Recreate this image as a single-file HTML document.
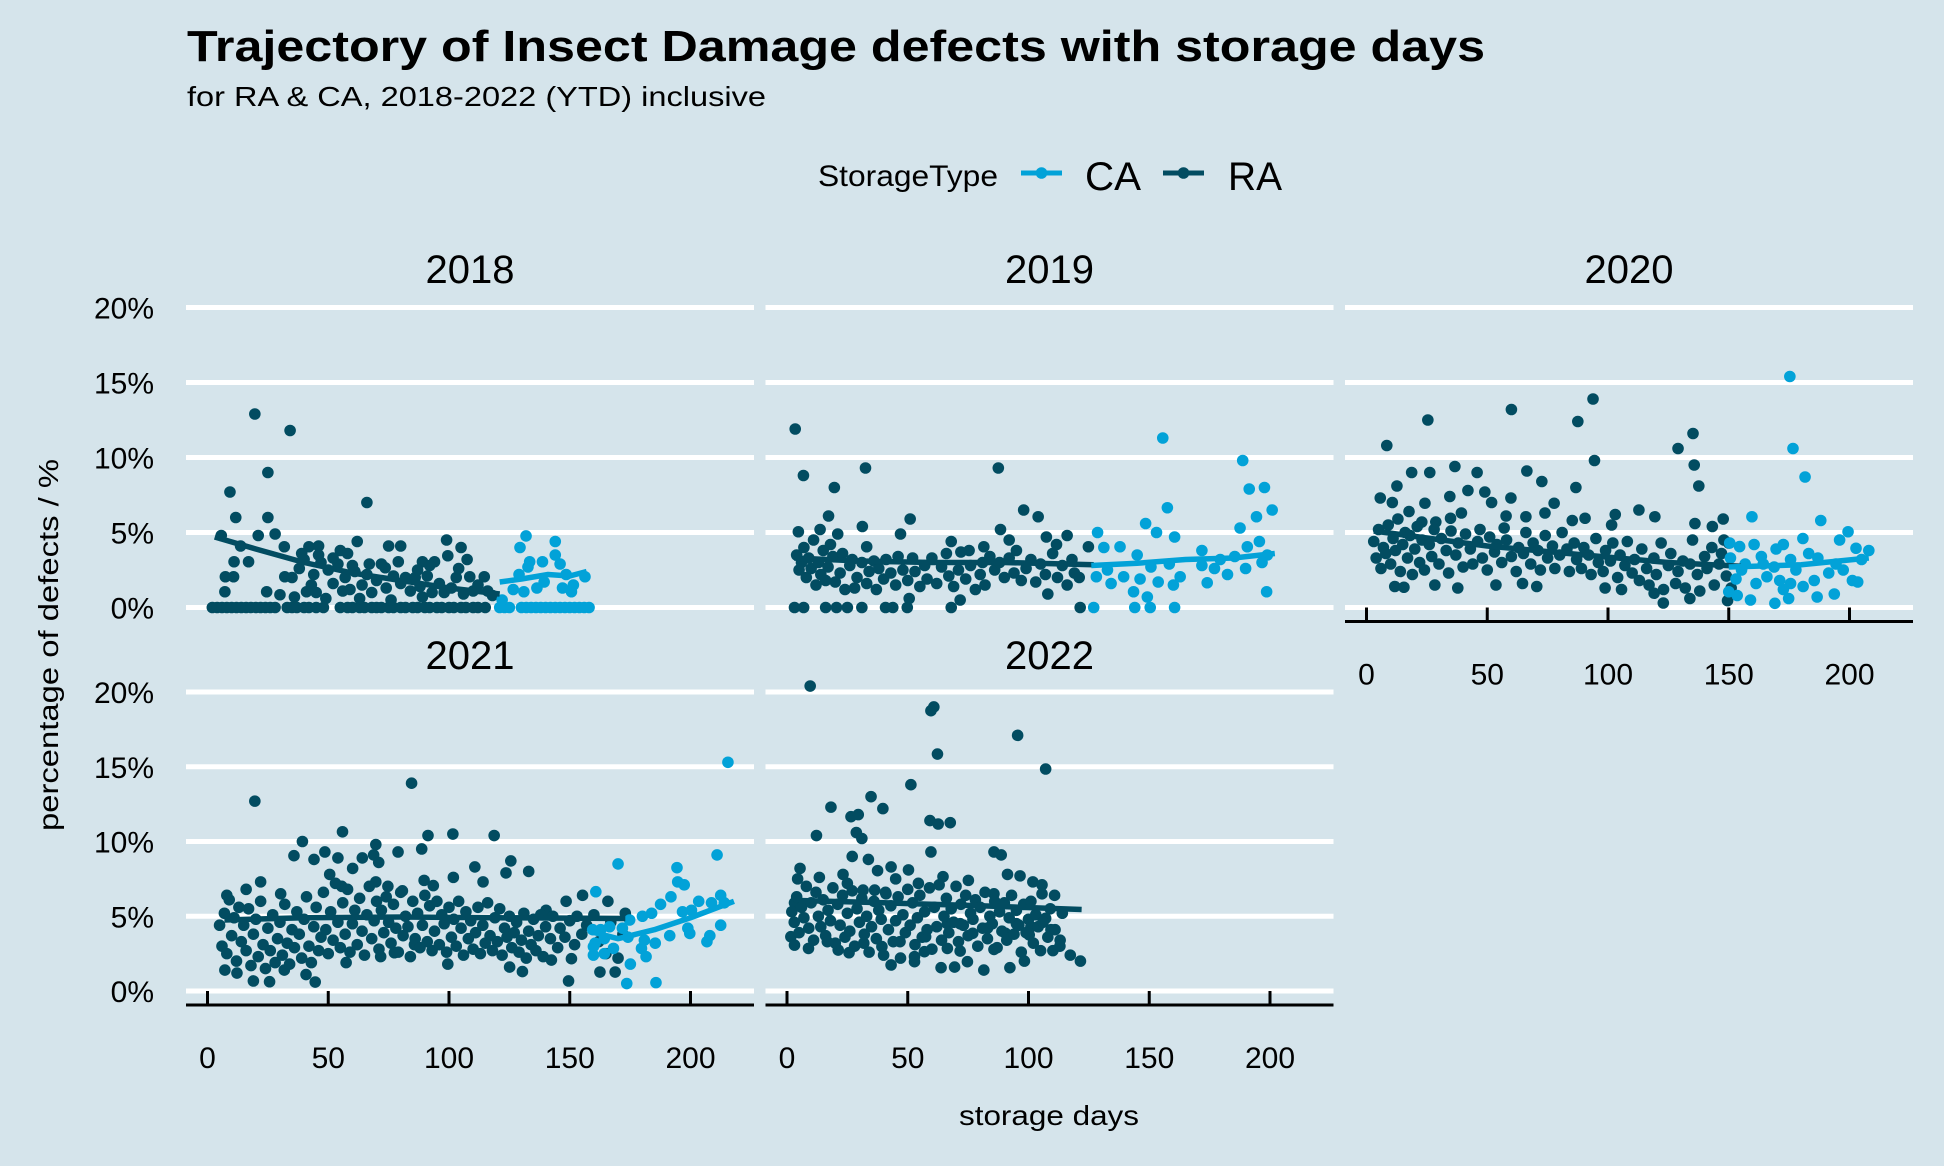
<!DOCTYPE html>
<html><head><meta charset="utf-8"><style>
html,body{margin:0;padding:0;background:#d5e4eb;}
svg{display:block;font-family:"Liberation Sans",Arial,sans-serif;}
</style></head><body>
<svg id="chart" width="1944" height="1166" viewBox="0 0 1944 1166" xmlns="http://www.w3.org/2000/svg">
<rect x="0" y="0" width="1944" height="1166" fill="#d5e4eb"/>
<text x="187" y="61" font-size="44" font-weight="bold" fill="#000" textLength="1298" lengthAdjust="spacingAndGlyphs">Trajectory of Insect Damage defects with storage days</text>
<text x="187" y="106" font-size="28" fill="#000" textLength="579" lengthAdjust="spacingAndGlyphs">for RA &amp; CA, 2018-2022 (YTD) inclusive</text>
<g>
<text x="818" y="186" font-size="30" textLength="180" lengthAdjust="spacingAndGlyphs">StorageType</text>
<g>
<line x1="1021" y1="173" x2="1062" y2="173" stroke="#02a2d8" stroke-width="5"/>
<circle cx="1041.5" cy="173" r="5.8" fill="#02a2d8"/>
<text x="1085" y="190" font-size="40" textLength="56" lengthAdjust="spacingAndGlyphs">CA</text>
</g>
<g>
<line x1="1163" y1="173" x2="1204" y2="173" stroke="#024c61" stroke-width="5"/>
<circle cx="1183.5" cy="173" r="5.8" fill="#024c61"/>
<text x="1228" y="190" font-size="40" textLength="54" lengthAdjust="spacingAndGlyphs">RA</text>
</g>
</g>
<text transform="translate(58,645) rotate(-90)" text-anchor="middle" font-size="28" textLength="372" lengthAdjust="spacingAndGlyphs">percentage of defects / %</text>
<text x="1049" y="1125" text-anchor="middle" font-size="28" textLength="180" lengthAdjust="spacingAndGlyphs">storage days</text>
<g id="panels"></g>
</svg>
<script>
const years = ["2018","2019","2020","2021","2022"];
const yTicks = [0,5,10,15,20];
const yTickLabels = ["0%","5%","10%","15%","20%"];
const xTicks = [0,50,100,150,200];

const ra2018 = [[2,0],[4,0],[6,0],[8,0],[10,0],[12,0],[14,0],[16,0],[18,0],[20,0],[22,0],[24,0],[26,0],[28,0],[33,0],[35,0],[37,0],[40,0],[42,0],[45,0],[48,0],[55,0],[58,0],[60,0],[63,0],[65,0],[68,0],[70,0],[72,0],[75,0],[77,0],[80,0],[82,0],[85,0],[87,0],[90,0],[92,0],[95,0],[97,0],[100,0],[102,0],[105,0],[107,0],[110,0],[112,0],[115,0],
[19.6,12.9],[34.2,11.8],[25,9.0],[9.3,7.7],[11.7,6.0],[25,6.0],[66,7.0],[5.7,4.8],[21,4.8],[28,4.9],[13.7,4.1],[31.8,4.05],[42,4.05],[46,4.1],[62,4.4],[55,3.8],[75,4.1],[80,4.1],[99,4.5],[105,4.0],[11,3.05],[17,3.05],[39,3.6],[79,3.05],[89,3.05],[94,3.05],[99.5,3.45],[107.5,3.2],[7.4,2.05],[10.8,2.05],[32,2.05],[73.6,2.65],[108.6,2.05],[114.6,2.05],[7.2,1.05],[24.5,1.05],[30,0.85],[36,0.7],[41,1.05],
[38,2.6],[40,3.2],[44,2.2],[47,3.0],[50,2.5],[52,1.6],[54,2.9],[57,2.0],[59,1.2],[61,2.4],[64,1.5],[66,2.2],[68,1.0],[70,1.8],[72,2.9],[74,1.3],[77,2.1],[80,1.6],[82,2.0],[84,1.1],[86,2.0],[88,1.4],[91,2.1],[93,1.0],[96,1.6],[98,1.0],[101,1.3],[103,2.0],[106,0.9],[110,1.1],[112,1.5],[116,1.1],[118,0.8],[45,1.0],[49,0.6],[56,1.1],[63,0.6],[76,0.5],[89,0.7],[35,2.0],[43,1.5],[60,2.8],[67,2.9],[87,2.5],[104,2.6],[92,2.8],[46,3.5],[52,3.3],[58,3.6]];
const ca2018 = [[121,0],[123,0],[125,0],[130,0],[132,0],[134,0],[136,0],[138,0],[140,0],[142,0],[144,0],[146,0],[148,0],[150,0],[152,0],[154,0],[156,0],[158,0],
[131.9,4.77],[129.4,4.0],[144,4.4],[144,3.5],[133.4,3.05],[138.7,3.05],[146,2.9],[132.7,2.7],[129,2.2],[148.5,2.2],[156.3,2.05],[139.4,1.7],[126.6,1.2],[131,1.05],[136.4,1.3],[147,1.3],[150.7,1.05],[151.5,1.5],[122,0.5]];
const ra2019 = [[3.4,11.9],[6.8,8.8],[19.6,8.0],[32.5,9.3],[87.5,9.3],[31.2,5.4],[51,5.9],[47,4.9],[17.2,6.1],[4.7,5.05],[13.7,5.2],[21,4.9],[33,4.05],[98,6.5],[104,6.05],[88.4,5.2],[107.4,4.7],[116,4.8],[124.8,4.05],[68,4.4],[75.4,3.8],[81.5,4.05],[92,4.5],[111.6,4.2],
[3.1,0],[6.9,0],[16,0],[20.5,0],[25,0],[31,0],[40.8,0],[43.8,0],[49.8,0],[68,0],[121.4,0],[71.7,0.5],[50.6,0.6],
[4,3.5],[5,2.5],[6,3.0],[7,4.0],[8,2.0],[9,3.3],[10,2.6],[11,4.5],[12,1.5],[13,3.0],[14,2.2],[15,3.8],[16,1.8],[17,2.7],[18,4.2],[19,3.4],[20,1.7],[22,2.3],[23,3.6],[24,1.2],[26,2.8],[27,3.2],[28,1.3],[29,2.0],[31,3.0],[33,1.6],[34,2.4],[36,3.1],[37,1.2],[38,2.6],[40,1.9],[41,3.2],[43,2.3],[45,1.5],[46,3.4],[48,2.5],[50,1.8],[52,3.3],[53,2.4],[55,1.4],[57,2.8],[58,1.9],[60,3.3],[62,1.6],[64,2.7],[66,3.6],[67,2.1],[69,1.4],[71,2.5],[72,3.7],[74,1.9],[76,2.8],[78,1.2],[80,2.2],[81,3.0],[82,1.5],[84,3.4],[86,2.5],[88,3.0],[90,2.0],[92,3.3],[94,2.3],[95,3.8],[97,1.8],[99,2.6],[101,3.2],[103,1.7],[105,2.9],[107,2.2],[108,0.9],[110,3.6],[112,2.0],[114,2.8],[116,1.5],[118,3.2],[119,2.3],[121,2.0]];
const ca2019 = [[155.6,11.3],[188.7,9.8],[191.4,7.9],[197.7,8.0],[200.9,6.5],[194.4,6.05],[157.5,6.65],[148.5,5.6],[153,5.0],[160.5,4.7],[128.6,5.0],[187.6,5.3],[195.6,4.4],[190.6,4.05],[131.2,4.0],[137.9,4.05],[171.8,3.8],[145,3.5],[198.9,3.5],[196.7,3.0],[185.4,3.4],[189.9,2.6],[177,2.6],[171.8,2.8],[182.4,2.2],[128.1,2.05],[139.4,2.05],[146.2,1.9],[153.7,1.7],[162.8,2.05],[160,1.5],[134.2,1.6],[174,1.65],[143.5,1.05],[149.2,0.7],[198.6,1.05],[158.3,2.9],[132.7,2.5],[150.7,2.7],[179.4,3.2],[127,0],[144,0],[150.4,0],[160.5,0]];
const ra2020 = [[8.4,10.8],[25.4,12.5],[60,13.2],[87.5,12.4],[93.8,13.9],[94.4,9.8],[129,10.6],[135.2,11.6],[135.7,9.5],[137.6,8.1],[36.6,9.4],[45.8,9.0],[66.4,9.1],[72.6,8.4],[86.7,8.0],[26.2,9.0],[18.7,9.0],[12.6,8.1],[5.7,7.3],[10.7,7.0],[24.2,6.95],[34.5,7.4],[42,7.8],[49,7.7],[51.8,7.0],[59.8,7.3],[77.7,6.95],[112.8,6.5],[119.4,6.05],[103,6.2],[90.5,5.95],[73.9,6.3],[66,6.05],[57.8,6.1],[39.3,6.3],[34.8,5.95],[17.6,6.4],[22.9,5.7],[28.7,5.7],[147.7,5.9],[136,5.6],[143.2,5.4],[101.5,5.5],[85.2,5.8],
[11.7,1.4],[15.5,1.35],[28.3,1.5],[37.8,1.3],[53.6,1.5],[64.6,1.6],[70.5,1.4],[98.8,1.3],[122.9,0.3],[133.9,0.6],[149.5,0.46],[119.1,0.95],[105.6,1.2],
[3,4.4],[4,3.3],[5,5.2],[6,2.6],[7,4.0],[8,3.6],[9,5.5],[10,2.9],[11,4.6],[12,3.8],[13,5.9],[14,2.4],[15,4.2],[16,5.0],[17,3.3],[18,4.8],[19,2.2],[20,3.9],[21,5.4],[22,3.0],[23,4.5],[24,2.5],[26,4.2],[27,3.4],[28,5.2],[30,2.9],[31,4.6],[33,3.8],[34,2.3],[35,5.1],[37,3.5],[38,4.3],[40,2.7],[41,4.9],[43,3.9],[44,2.9],[46,4.4],[47,5.2],[48,3.3],[50,2.5],[51,4.7],[53,3.7],[54,4.2],[56,3.0],[57,5.3],[58,4.5],[60,3.4],[62,2.4],[63,4.0],[65,3.6],[66,5.0],[68,2.9],[69,4.3],[71,3.8],[72,2.5],[74,4.8],[75,3.3],[77,4.1],[78,2.6],[80,3.5],[81,5.0],[83,3.9],[84,2.4],[86,4.3],[87,3.2],[89,2.6],[90,4.0],[92,3.5],[93,2.2],[95,4.6],[96,3.0],[98,2.4],[99,3.8],[101,3.1],[102,4.3],[104,2.0],[105,3.5],[107,2.8],[108,4.4],[110,2.3],[111,3.2],[113,1.8],[114,3.9],[116,2.6],[117,1.5],[119,3.3],[120,2.2],[122,4.3],[123,1.2],[125,2.8],[126,3.6],[128,1.6],[129,2.4],[131,3.1],[132,1.3],[134,2.9],[135,4.5],[137,2.2],[138,1.1],[140,3.4],[141,2.6],[143,4.0],[144,1.5],[146,2.9],[147,3.6],[149,2.1],[150,4.3],[151,1.3],[148,4.5]];
const ca2020 = [[175.3,15.4],[176.6,10.6],[181.6,8.7],[159.6,6.05],[188.1,5.8],[199.4,5.05],[180.7,4.6],[195.9,4.5],[202.7,3.95],[208,3.8],[150.4,4.3],[154.5,4.06],[160.5,4.2],[169.6,3.9],[172.6,4.2],[183.1,3.6],[186.9,3.3],[205,3.2],[150.7,3.3],[156.8,2.9],[163.5,3.4],[168.8,2.7],[175.6,3.2],[191.4,2.3],[201.2,1.8],[153,1.9],[161.3,1.6],[171.1,1.8],[175.6,1.6],[185.4,1.8],[180.8,1.4],[150,1.05],[153.5,0.8],[159,0.5],[169.1,0.28],[174.8,0.6],[186.6,0.7],[193.7,0.9],[203.4,1.7],[165.8,2.05],[177.8,2.5],[197.4,2.5],[172.6,1.2],[155.3,2.5],[164.3,2.9],[194.4,2.9]];
const ra2021 = [[19.6,12.7],[84.5,13.9],[55.9,10.65],[91.3,10.4],[101.6,10.5],[118.7,10.4],[39.3,10.0],[35.8,9.05],[48.6,9.3],[54,8.9],[69.7,9.8],[68.8,9.1],[78.9,9.3],[88.7,9.5],[70.9,8.6],[64.1,8.9],[60.1,8.2],[44.1,8.8],[50.6,7.8],[110.7,8.3],[125.6,8.7],[123.6,7.9],[133,8.0],[22,7.3],[16,6.8],[8,6.4],[30.3,6.5],[69.7,7.3],[74.7,7.0],[89.7,7.4],[101.8,7.6],[114.1,7.3],[93.5,7.05],[55.6,7.0],[80.7,6.7],[155.3,6.4],[165.8,6.0],[148.5,6.0],[140.2,5.4],[173,5.2],
[7.2,1.4],[19,0.67],[25.7,0.62],[44.6,0.6],[149.5,0.67],[162.5,1.27],[168.8,1.27],[125.1,1.6],[130.4,1.3],[99.5,1.8],[142.4,2.07],[150.7,2.16],[71.7,2.3],[77.4,2.56],[85.7,3.1],[57.4,1.9],[12.2,1.2],[31.8,1.4],[40.8,1.1],
[5,4.4],[6,3.0],[7,5.2],[8,2.5],[9,6.1],[10,3.7],[11,4.9],[12,2.0],[13,5.6],[14,3.3],[15,4.4],[16,2.7],[17,5.5],[18,1.7],[19,3.8],[20,4.8],[21,2.3],[22,6.0],[23,3.1],[24,1.5],[25,4.2],[26,2.7],[27,5.1],[28,1.9],[29,3.5],[30,4.6],[31,2.4],[32,5.8],[33,3.2],[34,1.8],[35,4.1],[36,2.9],[37,5.3],[38,3.8],[39,2.2],[40,4.8],[41,6.3],[42,3.0],[43,1.9],[44,4.3],[45,5.6],[46,2.7],[47,3.6],[48,6.6],[49,4.1],[50,2.5],[51,5.3],[52,3.4],[53,7.2],[54,4.6],[55,2.9],[56,5.9],[57,3.8],[58,6.8],[59,2.6],[60,4.5],[61,5.4],[62,3.1],[63,6.2],[64,4.0],[65,2.4],[66,5.1],[67,7.0],[68,3.5],[69,4.7],[70,6.0],[71,2.8],[72,5.4],[73,3.9],[74,6.3],[75,4.6],[76,3.2],[77,5.8],[78,4.2],[79,2.6],[80,6.6],[81,3.7],[82,5.0],[83,4.3],[84,2.3],[85,6.0],[86,3.5],[87,5.2],[88,2.9],[89,4.4],[90,6.4],[91,3.3],[92,5.7],[93,2.7],[94,4.0],[95,6.0],[96,3.1],[97,5.1],[98,4.5],[99,2.6],[100,5.6],[101,3.6],[102,4.8],[103,3.0],[104,6.0],[105,4.2],[106,2.4],[107,5.3],[108,3.5],[109,4.7],[110,2.8],[111,3.9],[112,5.6],[113,2.5],[114,4.4],[115,3.2],[116,5.9],[117,3.7],[118,2.7],[119,4.9],[120,3.3],[121,5.5],[122,2.4],[123,4.2],[124,3.6],[125,5.0],[126,2.9],[127,3.9],[128,4.6],[129,2.6],[130,3.4],[131,5.2],[132,2.2],[133,4.0],[134,3.1],[135,4.8],[136,2.7],[137,3.7],[138,5.1],[139,2.3],[140,4.3],[142,3.5],[143,5.0],[145,2.9],[146,4.2],[148,3.6],[150,4.7],[152,3.1],[153,5.0],[155,3.8],[157,4.4],[160,5.1],[162,3.3],[165,2.5],[167,4.6],[170,2.2],[172,3.8]];
const ca2021 = [[215.5,15.3],[211,9.1],[170,8.5],[194.4,8.25],[194.7,7.3],[197.4,7.1],[212.5,6.4],[214,5.9],[191.9,6.3],[187.6,5.8],[203.4,6.0],[208.7,5.9],[200.4,5.4],[196.7,5.3],[180.1,5.0],[183.9,5.2],[174.8,4.75],[212.5,4.4],[159.5,4.1],[166.5,4.3],[171.8,4.2],[198.9,4.2],[160.5,3.2],[164.3,3.5],[174.1,3.6],[180.9,3.4],[185.4,3.2],[191.4,3.7],[199.7,3.85],[208,3.7],[206.8,3.3],[159.8,2.4],[164.3,2.5],[168.1,2.85],[179.7,2.85],[181.6,2.3],[175.1,1.8],[173.6,0.5],[185.7,0.56],[162.8,4.1],[159.8,2.97],[160.8,6.64]];
const ra2022 = [[9.6,20.4],[60.8,19.0],[59.6,18.75],[95.5,17.1],[62.3,15.85],[107.1,14.85],[51.3,13.8],[34.8,13.0],[18.2,12.3],[39.7,12.2],[26.5,11.66],[29.5,11.8],[59.2,11.4],[62.6,11.17],[67.6,11.26],[12.2,10.4],[28.7,10.6],[31,10.2],[59.6,9.3],[85.7,9.3],[88.7,9.1],[27,9.0],[33.7,8.8],[5.4,8.2],[4.4,7.5],[13.4,7.6],[23.2,7.8],[37.5,8.05],[43.1,8.3],[50.3,8.1],[45,7.5],[25,7.2],[91.3,7.8],[96.5,7.7],[101.8,7.3],[105.6,7.1],[105.6,6.5],[110.8,6.4],[85.7,6.5],[75.1,7.4],[64.6,7.65],[54.4,7.2],[31.5,6.75],[36.3,6.75],[40.8,6.6],[3.1,5.9],[76.9,3.86],[98.3,2.0],[117.3,2.4],[121.5,2.0],[110.1,2.7],[113.1,3.4],[63.8,1.56],[69.4,1.6],[81.5,1.4],[92.3,1.56],[43.1,1.74],[52.8,1.96],[74.7,1.96],[85.7,2.78],[66.4,2.85],[71.7,2.67],[25.7,2.56],[21.2,2.74],[8.9,2.85],[1.6,3.63],[3.1,3.07],[16.7,3.3],[31.8,3.2],[39.3,2.97],[46.8,3.3],[52.8,2.3],[56.9,2.63],[57.4,3.63],[66.4,4.5],[71.7,4.5],[83,4.2],[90.5,3.86],[95,4.5],[100.3,3.75],[109.3,4.1],[107.1,4.86],[101,4.3],
[2,5.3],[3,4.6],[4,6.3],[5,3.9],[6,5.6],[7,4.9],[8,7.0],[9,4.2],[10,5.9],[11,3.4],[12,6.6],[13,5.0],[14,4.3],[15,6.1],[16,3.7],[17,5.4],[18,4.7],[19,6.9],[20,3.2],[21,5.8],[22,4.4],[23,6.4],[24,3.6],[25,5.2],[26,4.0],[27,6.7],[28,3.0],[29,5.5],[30,4.6],[31,6.2],[32,3.8],[33,5.0],[34,2.6],[35,4.3],[36,6.0],[37,3.5],[38,5.4],[39,4.8],[40,2.4],[41,6.5],[42,4.1],[43,5.7],[44,3.3],[45,4.7],[46,6.3],[47,2.2],[48,5.1],[49,3.9],[50,6.8],[51,4.4],[52,5.9],[53,3.1],[54,4.9],[55,6.4],[56,3.6],[57,5.3],[58,4.1],[59,6.9],[60,2.8],[61,5.6],[62,4.3],[63,7.1],[64,3.4],[65,5.0],[66,6.2],[67,3.9],[68,5.5],[69,4.6],[70,7.0],[71,3.3],[72,5.8],[73,4.4],[74,6.4],[75,3.7],[76,5.2],[77,4.8],[78,6.1],[79,3.0],[80,5.6],[81,4.2],[82,6.6],[83,3.5],[84,5.0],[85,4.5],[86,6.0],[87,2.9],[88,5.3],[89,4.0],[90,5.9],[91,3.4],[92,4.9],[93,6.4],[94,3.8],[95,5.4],[96,4.4],[97,2.6],[98,5.8],[99,3.9],[100,4.8],[101,6.0],[102,3.2],[103,5.1],[104,4.3],[105,2.7],[106,4.6],[108,3.6],[109,5.5],[111,4.1],[113,3.0],[114,5.2]];
const ca2022 = [];

const raTrendDays = [[3,20,40,60,80,100,121],[3,30,60,90,127],[3,50,97,125,155],[7,40,80,120,173],[5,40,80,122]];
const raTrendPct  = [[4.7,3.9,3.0,2.3,1.8,1.3,0.9],[3.3,3.1,3.0,3.0,2.85],[5.1,4.1,3.4,3.0,2.75],[4.75,4.9,4.95,4.9,4.85],[6.05,5.9,5.7,5.45]];
const caTrendDays = [[121,130,141,150,157],[126,145,165,185,202],[150,180,208],[158,170,185,200,218],[]];
const caTrendPct  = [[1.7,1.9,2.2,2.1,2.4],[2.8,2.95,3.2,3.3,3.6],[2.7,2.85,3.3],[4.0,3.5,4.1,4.9,6.0],[]];

const raPoints = [ra2018, ra2019, ra2020, ra2021, ra2022];
const caPoints = [ca2018, ca2019, ca2020, ca2021, ca2022];

const RA_COL = "#024c61", CA_COL = "#02a2d8";
const NS = "http://www.w3.org/2000/svg";
const panelCol = [0,1,2,0,1];
const panelRow = [0,0,0,1,1];
const showXAxis = [false,false,true,true,true];
const PANEL_W = 568;
function panelLeft(c){ return 186 + c*579.5; }
function xScale(c, d){ return panelLeft(c) + 21.5 + d*2.415; }
function yScale(r, p){ return r===0 ? 607.5 - p*15 : 991 - p*14.95; }

function mk(tag, attrs){ const e = document.createElementNS(NS, tag); for (const k in attrs) e.setAttribute(k, attrs[k]); return e; }
const root = document.getElementById('panels');

years.forEach((yr, i) => {
  const c = panelCol[i], r = panelRow[i], L = panelLeft(c);
  const g = mk('g', {});
  
  
  root.appendChild(g);
  const strip = mk('text', {x: L + PANEL_W/2, y: r===0 ? 283 : 669, 'text-anchor':'middle', 'font-size':40});
  
  
  strip.textContent = yr;
  g.appendChild(strip);
  yTicks.forEach((t, k) => {
    const gl = mk('line', {x1: L, x2: L + PANEL_W, y1: yScale(r,t), y2: yScale(r,t), stroke:'#ffffff', 'stroke-width':5});
    
    
    g.appendChild(gl);
    if (c === 0) {
      const tl = mk('text', {x: 154, y: yScale(r,t) + 11, 'text-anchor':'end', 'font-size':30});
      
      
      tl.textContent = yTickLabels[k];
      g.appendChild(tl);
    }
  });
  if (showXAxis[i]) {
    const axY = yScale(r,0) + 14;
    const ax = mk('line', {x1: L, x2: L + PANEL_W, y1: axY, y2: axY, stroke:'#000', 'stroke-width':3});
    
    
    g.appendChild(ax);
    xTicks.forEach(t => {
      const tk = mk('line', {x1: xScale(c,t), x2: xScale(c,t), y1: axY - 14, y2: axY, stroke:'#000', 'stroke-width':3});
      
      
      g.appendChild(tk);
      const tl = mk('text', {x: xScale(c,t), y: axY + 63, 'text-anchor':'middle', 'font-size':30});
      
      
      tl.textContent = String(t);
      g.appendChild(tl);
    });
  }
  [[raPoints[i], RA_COL, 'ra'], [caPoints[i], CA_COL, 'ca']].forEach(([pts, col, nm]) => {
    pts.forEach(pt => {
      const dot = mk('circle', {cx: xScale(c, pt[0]), cy: yScale(r, pt[1]), r: 5.8, fill: col});
      
      
      g.appendChild(dot);
    });
  });
  [[raTrendDays[i], raTrendPct[i], RA_COL, 'ra'], [caTrendDays[i], caTrendPct[i], CA_COL, 'ca']].forEach(([ds, ps, col, nm]) => {
    if (!ds.length) return;
    const pts = ds.map((d, k) => xScale(c, d) + ',' + yScale(r, ps[k])).join(' ');
    const pl = mk('polyline', {points: pts, fill:'none', stroke: col, 'stroke-width':5.5, 'stroke-linejoin':'round'});
    
    
    g.appendChild(pl);
  });
});
</script>
</body></html>
